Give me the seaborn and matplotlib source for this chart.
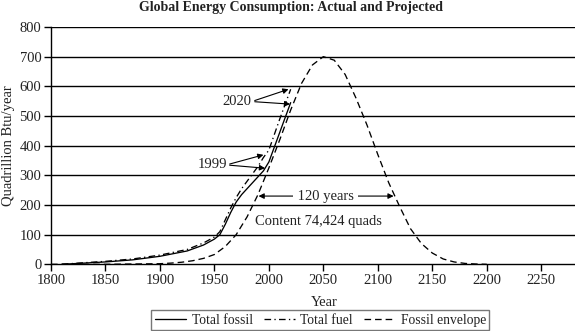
import matplotlib
matplotlib.use("Agg")
import matplotlib.pyplot as plt
import seaborn as sns
import pandas as pd
from matplotlib.lines import Line2D

# Total fossil fuel consumption, actual to 1999 and projected to 2020
fossil_years = [1810, 1825, 1850, 1875, 1900, 1925, 1940, 1950, 1955, 1960, 1965, 1970,
                1975, 1980, 1985, 1990, 1995, 2000, 2010, 2020]
fossil_vals = [0, 3, 8, 15, 27, 45, 65, 85, 100, 135, 175, 210,
               235, 255, 275, 295, 315, 345, 445, 545]

# Total fuel consumption (all sources)
fuel_years = [1810, 1825, 1850, 1875, 1900, 1925, 1940, 1950, 1955, 1960, 1965, 1970,
              1975, 1980, 1985, 1990, 1995, 2000, 2010, 2020]
fuel_vals = [0, 4, 10, 18, 31, 50, 72, 92, 110, 150, 190, 225,
             255, 280, 305, 330, 360, 385, 490, 590]

# Fossil envelope (bell-shaped depletion curve)
env_years = [1800, 1850, 1900, 1910, 1920, 1930, 1940, 1950, 1960, 1970, 1980, 1990, 2000,
             2010, 2020, 2030, 2040, 2050, 2060, 2070, 2080, 2090, 2100, 2110,
             2120, 2130, 2140, 2150, 2160, 2170, 2180, 2190, 2200]
env_vals = [0, 0, 2, 4, 7, 12, 20, 33, 60, 100, 160, 235, 325,
            420, 520, 610, 672, 700, 688, 640, 560, 470, 370, 275,
            195, 120, 70, 38, 18, 8, 3, 1, 0]

y_ticks = [0, 100, 200, 300, 400, 500, 600, 700, 800]
x_ticks = [1800, 1850, 1900, 1950, 2000, 2050, 2100, 2150, 2200, 2250]

sns.set_theme(style="white")
plt.rcParams["font.family"] = ["Liberation Serif", "DejaVu Serif"]

fig = plt.figure(figsize=(5.75, 3.31), dpi=100)
ax = fig.add_axes([0.0887, 0.2015, 0.9113, 0.717])

fossil = pd.DataFrame({"Year": fossil_years, "value": fossil_vals})
fuel = pd.DataFrame({"Year": fuel_years, "value": fuel_vals})
env = pd.DataFrame({"Year": env_years, "value": env_vals})

lw = 0.95
dashdot = (0, (5, 2.5, 1, 2.5))
dashed = (0, (5, 3))
sns.lineplot(data=fossil, x="Year", y="value", ax=ax, color="black", lw=lw)
sns.lineplot(data=fuel, x="Year", y="value", ax=ax, color="black", lw=lw,
             linestyle=dashdot)
sns.lineplot(data=env, x="Year", y="value", ax=ax, color="black", lw=lw,
             linestyle=dashed)

ax.set_xlim(1800, 2281)
ax.set_ylim(0, 800)
ax.set_xticks(x_ticks)
ax.set_yticks(y_ticks)
for v in y_ticks[1:]:
    ax.axhline(v, color="black", lw=1.0, zorder=0)

for s in ["top", "right"]:
    ax.spines[s].set_visible(False)
for s in ["left", "bottom"]:
    ax.spines[s].set_color("black")
    ax.spines[s].set_linewidth(1.0)
fs = 10.5
ax.tick_params(axis="both", direction="out", length=5, width=1.0, color="black",
               labelsize=fs, labelcolor="#222222", pad=2, left=True, bottom=True)

ax.set_xlabel("Year", fontsize=fs, color="#222222", labelpad=2)
ax.xaxis.set_label_coords(0.522, -0.135)
ax.set_ylabel("Quadrillion Btu/year", fontsize=fs, color="#222222", labelpad=3)

fig.text(0.506, 0.978, "Global Energy Consumption: Actual and Projected",
         ha="center", va="center", fontsize=10, fontweight="bold", color="#222222")

arrow = dict(arrowstyle="-|>", color="black", lw=0.8, mutation_scale=8,
             shrinkA=0, shrinkB=0)
# 2020 projections
ax.text(1971, 548, "2020", ha="center", va="center", fontsize=fs, color="#222222")
ax.annotate("", xy=(2018, 590), xytext=(1987, 552), arrowprops=arrow)
ax.annotate("", xy=(2019.5, 540), xytext=(1987, 548), arrowprops=arrow)
# 1999 actual values
ax.text(1948, 335, "1999", ha="center", va="center", fontsize=fs, color="#222222")
ax.annotate("", xy=(1995, 369), xytext=(1964, 338), arrowprops=arrow)
ax.annotate("", xy=(1996.5, 324), xytext=(1964, 334), arrowprops=arrow)

# Width of the envelope above the current consumption level
ax.annotate("", xy=(1990.5, 230), xytext=(2052, 230), arrowprops=arrow)
ax.annotate("", xy=(2114.5, 230), xytext=(2052, 230), arrowprops=arrow)
ax.text(2052, 230, " 120 years ", ha="center", va="center", fontsize=fs,
        color="#222222", bbox=dict(facecolor="white", edgecolor="none", pad=0.5))
ax.text(1987, 143, "Content 74,424 quads", ha="left", va="center", fontsize=fs,
        color="#222222")

handles = [
    Line2D([], [], color="black", lw=lw),
    Line2D([], [], color="black", lw=lw, linestyle=dashdot),
    Line2D([], [], color="black", lw=lw, linestyle=dashed),
]
leg = fig.legend(handles, ["Total fossil", "Total fuel", "Fossil envelope"],
                 loc="upper center", bbox_to_anchor=(0.557, 0.062), ncol=3,
                 frameon=True, fancybox=False, fontsize=9.8, handlelength=2.3,
                 handletextpad=0.4, columnspacing=0.8, borderpad=0.25,
                 borderaxespad=0, labelcolor="#222222")
leg.get_frame().set_edgecolor("#555555")
leg.get_frame().set_linewidth(1.0)

fig.savefig("out.png", dpi=100)
